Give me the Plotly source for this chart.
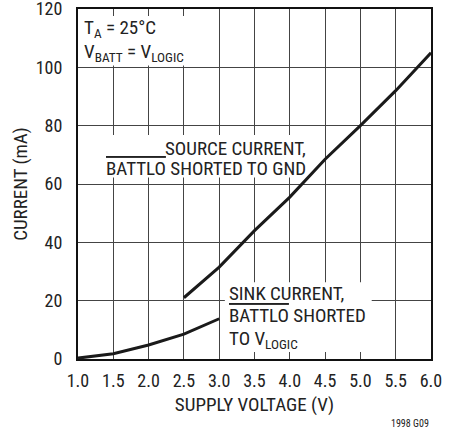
import plotly.graph_objects as go

# Data
source_v = [2.5, 3.0, 3.5, 4.0, 4.5, 5.0, 5.5, 6.0]
source_ma = [21.0, 31.5, 44.0, 55.5, 68.5, 80.0, 92.0, 105.0]
sink_v = [1.0, 1.5, 2.0, 2.5, 3.0]
sink_ma = [0.3, 1.8, 4.8, 8.5, 13.8]
x_ticks = [1.0, 1.5, 2.0, 2.5, 3.0, 3.5, 4.0, 4.5, 5.0, 5.5, 6.0]
y_ticks = [0, 20, 40, 60, 80, 100, 120]

FONT = "Liberation Sans Narrow, Roboto Condensed, Arial Narrow, Liberation Sans, sans-serif"
TXT = "#222"

fig = go.Figure()
fig.add_trace(go.Scatter(x=source_v, y=source_ma, mode="lines",
                         line=dict(color="#1a1a1a", width=3), showlegend=False))
fig.add_trace(go.Scatter(x=sink_v, y=sink_ma, mode="lines",
                         line=dict(color="#1a1a1a", width=3), showlegend=False))

# white boxes masking the grid behind the labels
boxes = [
    (1.0, 2.93, 100.6, 117.6),
    (1.3, 4.3, 62.2, 76.8),
    (3.08, 5.16, 2.4, 26.3),
]
for x0, x1, y0, y1 in boxes:
    fig.add_shape(type="rect", x0=x0, x1=x1, y0=y0, y1=y1, xref="x", yref="y",
                  fillcolor="white", line=dict(width=0), layer="between")

ann_font = dict(family=FONT, size=19, color=TXT)
OV = "<span style='text-decoration:overline'>BATTLO</span>"
labels = [
    # (x, y, xanchor, text)
    (1.06, 113.2, "left", "T<sub>A</sub> = 25°C"),
    (1.06, 105.0, "left", "V<sub>BATT</sub> = V<sub>LOGIC</sub>"),
    (4.26, 72.1, "right", "SOURCE CURRENT,"),
    (4.26, 65.3, "right", OV + " SHORTED TO GND"),
    (3.11, 22.5, "left", "SINK CURRENT,"),
    (3.11, 15.0, "left", OV + " SHORTED"),
    (3.11, 6.8, "left", "TO V<sub>LOGIC</sub>"),
]
for x, y, xa, t in labels:
    fig.add_annotation(x=x, y=y, xref="x", yref="y", xanchor=xa, yanchor="middle",
                       showarrow=False, font=ann_font, text=t)
fig.add_annotation(x=1, y=-0.163, xref="paper", yref="paper", xanchor="right", yanchor="top",
                   showarrow=False, font=dict(family=FONT, size=10, color=TXT),
                   text="1998 G09")

fig.update_xaxes(range=[1.0, 6.0], tickvals=x_ticks, ticktext=[f"{v:.1f}" for v in x_ticks],
                 showgrid=True, gridcolor="#444", gridwidth=1,
                 showline=True, linecolor="#111", linewidth=2, mirror=True,
                 ticks="", zeroline=False, automargin=False, ticklabelstandoff=4,
                 tickfont=dict(family=FONT, size=18, color=TXT),
                 title=dict(text="SUPPLY VOLTAGE (V)", font=dict(family=FONT, size=19, color=TXT), standoff=8))
fig.update_yaxes(range=[0, 120], tickvals=y_ticks,
                 showgrid=True, gridcolor="#444", gridwidth=1,
                 showline=True, linecolor="#111", linewidth=2, mirror=True,
                 ticks="", zeroline=False, ticklabelstandoff=10, ticklabeloverflow="allow",
                 automargin=False,
                 tickfont=dict(family=FONT, size=18, color=TXT),
                 title=dict(text="CURRENT (mA)", font=dict(family=FONT, size=19, color=TXT), standoff=3))

fig.update_layout(width=463, height=433, margin=dict(l=78, r=32, t=9, b=74),
                  plot_bgcolor="white", paper_bgcolor="white",
                  font=dict(family=FONT))
fig.write_html("out.html", config={"displayModeBar": False},
               post_script="document.body.style.margin='0';document.body.style.overflow='hidden';")
